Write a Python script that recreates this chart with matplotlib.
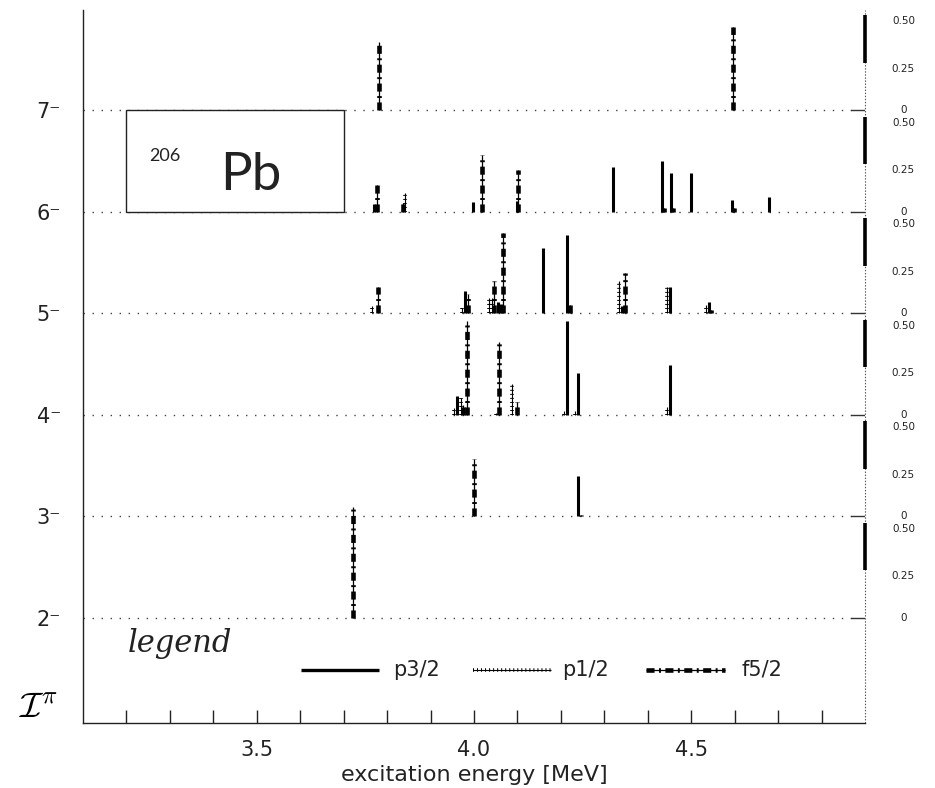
import numpy as np
import matplotlib
matplotlib.use("Agg")
import matplotlib.pyplot as plt
import matplotlib.transforms as mtransforms
from matplotlib.patches import Rectangle

plt.rcParams['font.family'] = ['DejaVu Sans']
plt.rcParams['lines.scale_dashes'] = False

# ---------------- data ----------------
spins = [2, 3, 4, 5, 6, 7]
spin_labels = ['2⁻', '3⁻', '4⁻', '5⁻', '6⁻', '7⁻']
strength_ticks = [0.0, 0.25, 0.50]
strength_tick_labels = ['0', '0.25', '0.50']
energy_ticks = [3.2, 3.3, 3.4, 3.5, 3.6, 3.7, 3.8, 3.9, 4.0, 4.1, 4.2, 4.3, 4.4, 4.5, 4.6, 4.7, 4.8]
energy_tick_labels = ['', '', '', '3.5', '', '', '', '', '4.0', '', '', '', '', '4.5', '', '', '']

# p3/2 components
p32_energy = [3.769, 3.998, 4.098, 4.320, 4.433, 4.454, 4.500, 4.594, 4.680,
              3.979, 4.055, 4.061, 4.159, 4.215, 4.341, 4.452, 4.540,
              3.960, 4.214, 4.240, 4.452,
              4.240]
p32_spin = [6, 6, 6, 6, 6, 6, 6, 6, 6,
            5, 5, 5, 5, 5, 5, 5, 5,
            4, 4, 4, 4,
            3]
p32_strength = [0.04, 0.05, 0.06, 0.235, 0.265, 0.205, 0.205, 0.065, 0.08,
                0.12, 0.06, 0.05, 0.345, 0.41, 0.04, 0.14, 0.06,
                0.10, 0.49, 0.22, 0.26,
                0.21]

# p1/2 components
p12_energy = [3.841,
              3.765, 3.972, 4.035, 4.042, 4.334, 4.443, 4.535,
              3.954, 3.969, 4.050, 4.088, 4.207, 4.232, 4.443]
p12_spin = [6,
            5, 5, 5, 5, 5, 5, 5,
            4, 4, 4, 4, 4, 4, 4]
p12_strength = [0.10,
                0.04, 0.03, 0.08, 0.08, 0.17, 0.14, 0.047,
                0.035, 0.09, 0.01, 0.16, 0.02, 0.02, 0.04]

# f5/2 components
f52_energy = [3.781, 4.595,
              3.777, 3.836, 4.018, 4.102, 4.437, 4.458, 4.598,
              3.779, 3.985, 4.047, 4.067, 4.222, 4.347, 4.546,
              3.975, 3.984, 4.058, 4.100,
              4.000, 4.247,
              3.721]
f52_spin = [7, 7,
            6, 6, 6, 6, 6, 6, 6,
            5, 5, 5, 5, 5, 5, 5,
            4, 4, 4, 4,
            3, 3,
            2]
f52_strength = [0.36, 0.44,
                0.14, 0.045, 0.30, 0.22, 0.02, 0.02, 0.02,
                0.14, 0.10, 0.17, 0.42, 0.047, 0.21, 0.02,
                0.05, 0.49, 0.385, 0.07,
                0.30, 0.01,
                0.58]

# ---------------- styling ----------------
SCALE = 1.88          # y-units per unit strength
XMIN, XMAX = 3.1, 4.9
YMIN, YMAX = 0.965, 7.99

P12_TICKS = [(0, (0.7, 2.2))]
F52_DASH = [(0, (5.8, 3.2, 1.4, 3.2))]

fig = plt.figure(figsize=(9.35, 7.88), dpi=100)
ax = fig.add_axes([0.0888, 0.0825, 0.8364, 0.9048])
ax.set_xlim(XMIN, XMAX)
ax.set_ylim(YMIN, YMAX)

for side in ['top', 'right']:
    ax.spines[side].set_visible(False)
for side in ['left', 'bottom']:
    ax.spines[side].set_linewidth(1.0)
    ax.spines[side].set_color('#222222')

ax.set_xticks(energy_ticks)
ax.set_xticklabels(energy_tick_labels)
ax.tick_params(axis='x', direction='in', length=9.5, width=1.0, pad=12,
               labelsize=15, colors='#222222')
ax.set_yticks(spins)
ax.set_yticklabels(spin_labels)
ax.tick_params(axis='y', length=0, pad=16, labelsize=15, colors='#222222')
ax.set_xlabel('excitation energy [MeV]', fontsize=16, labelpad=4, color='#222222')

# baselines
for s in spins:
    ax.plot([XMIN, XMAX - 0.032], [s, s], ls=(0, (1.0, 5.5)), lw=1.0,
            color='#444444', zorder=1)
    ax.plot([XMAX - 0.032, XMAX], [s, s], lw=1.0, color='#333333', zorder=1)

# right strength axis
ax.plot([XMAX, XMAX], [YMIN, YMAX], ls=(0, (1.0, 1.2)), lw=0.8,
        color='#555555', clip_on=False, zorder=2)
trR = mtransforms.blended_transform_factory(ax.transAxes, ax.transData)
for s in spins:
    ax.plot([XMAX, XMAX], [s + strength_ticks[1] * SCALE,
                           min(s + strength_ticks[2] * SCALE, YMAX)],
            lw=2.6, color='k', solid_capstyle='butt', clip_on=False, zorder=3)
    for v, lab in zip(strength_ticks, strength_tick_labels):
        off = -0.06 if v > 0 else 0.0
        ax.text(1.049, s + v * SCALE + off, lab, transform=trR, fontsize=7.5,
                ha='center', va='center', color='#222222')


def draw_bars(E, J, S, kind):
    E = np.asarray(E, float)
    lo = np.asarray(J, float)
    hi = lo + np.asarray(S, float) * SCALE
    if kind == 'p32':
        ax.vlines(E, lo, hi, colors='k', lw=2.2, capstyle='butt', zorder=4)
    elif kind == 'p12':
        ax.vlines(E, lo, hi, colors='k', lw=0.8, zorder=4)
        ax.vlines(E, lo, hi, colors='k', lw=2.6, linestyles=P12_TICKS,
                  capstyle='butt', zorder=4)
    else:
        ax.vlines(E, lo, hi, colors='k', lw=0.9, zorder=4)
        ax.vlines(E, lo, hi, colors='k', lw=3.3, linestyles=F52_DASH,
                  capstyle='butt', zorder=4)


draw_bars(p32_energy, p32_spin, p32_strength, 'p32')
draw_bars(p12_energy, p12_spin, p12_strength, 'p12')
draw_bars(f52_energy, f52_spin, f52_strength, 'f52')

# nucleus label box
ax.add_patch(Rectangle((3.2, 6.0), 0.5, 1.0, facecolor='white', edgecolor='#222222',
                       lw=1.0, zorder=3))
ax.text(3.253, 6.55, '206', fontsize=13, ha='left', va='center', zorder=5,
        family=['Lato', 'DejaVu Sans'], color='#222222')
ax.text(3.415, 6.217, 'Pb', fontsize=38, ha='left', va='baseline', zorder=5,
        family=['Lato', 'DejaVu Sans'], color='#222222')

# legend
ax.text(3.203, 1.75, 'legend', fontsize=22, family='DejaVu Serif', style='italic',
        ha='left', va='center', color='#222222')
LY = 1.49
ax.hlines([LY], [3.601], [3.781], colors='k', lw=2.4, capstyle='butt')
ax.text(3.813, LY, 'p3/2', fontsize=15, ha='left', va='center', color='#222222')
ax.hlines([LY], [3.998], [4.177], colors='k', lw=0.8)
ax.hlines([LY], [3.998], [4.177], colors='k', lw=2.6, linestyles=P12_TICKS, capstyle='butt')
ax.text(4.203, LY, 'p1/2', fontsize=15, ha='left', va='center', color='#222222')
ax.hlines([LY], [4.396], [4.578], colors='k', lw=0.9)
ax.hlines([LY], [4.396], [4.578], colors='k', lw=3.3, linestyles=F52_DASH, capstyle='butt')
ax.text(4.615, LY, 'f5/2', fontsize=15, ha='left', va='center', color='#222222')

fig.text(38 / 935, 1 - 708 / 788, r'$\mathcal{I}^{\pi}$', fontsize=26,
         ha='center', va='center', math_fontfamily='cm')

fig.savefig('out.png', dpi=100)
